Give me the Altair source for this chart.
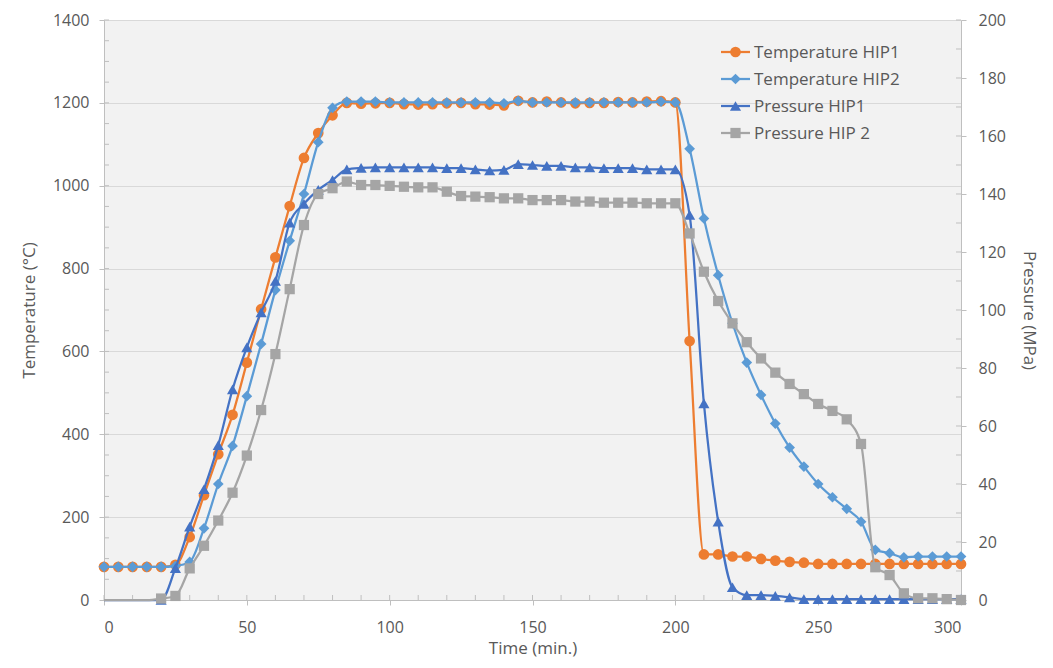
import altair as alt
import pandas as pd

# ---------------- data ----------------
time_min = list(range(0, 301, 5))

temp_hip1 = [80, 80, 80, 80, 80, 85,
             152, 253, 352, 447, 573, 702, 827, 951, 1067, 1127, 1170,
             1200, 1198, 1199, 1200, 1197, 1196, 1197, 1199, 1200, 1197, 1196, 1194,
             1205, 1201, 1203, 1201, 1199, 1200, 1200, 1202, 1201, 1203, 1204, 1201,
             625, 110, 110, 105, 105, 99, 95, 92, 90,
             87, 87, 87, 87, 87, 87, 87, 87, 87, 87, 87]

temp_hip2 = [80, 80, 80, 80, 80, 82,
             92, 173, 280, 372, 492, 618, 748, 867, 980, 1105, 1188,
             1203, 1203, 1203, 1201, 1201, 1201, 1201, 1201, 1201, 1201, 1201, 1199,
             1205, 1201, 1201, 1201, 1201, 1201, 1201, 1201, 1201, 1201, 1203, 1201,
             1089, 921, 784, 668, 573, 495, 426, 368, 322, 280, 248, 220, 189,
             121, 113, 103, 105, 105, 105, 105]

pres_hip1 = [0, 0, 0, 0, 0,
             11, 25.3, 38.2, 53.4, 72.6, 87.1, 99.2, 110, 130.1, 136.6, 141.4, 144.8,
             148.5, 149, 149.2, 149.2, 149.2, 149.2, 149.2, 148.9, 148.9, 148.5, 148.1, 148.3,
             150.3, 150, 149.7, 149.7, 149.2, 149.2, 148.9, 148.9, 148.9, 148.5, 148.5, 148.5,
             132.8, 67.8, 27, 4.4, 1.7, 1.7, 1.4, 0.9,
             0.3, 0.3, 0.3, 0.3, 0.3, 0.3, 0.3, 0.3, 0.3, 0.3, 0.3, 0.3]

pres_hip2 = [0, 0, 0, 0, 0.5,
             1.4, 10.9, 18.7, 27.4, 37, 49.8, 65.5, 84.8, 107.2, 129.3, 140, 142,
             144.3, 143.1, 143.1, 142.8, 142.5, 142.3, 142.3, 140.8, 139.3, 139.1, 138.9, 138.5,
             138.5, 137.9, 137.9, 137.9, 137.4, 137.4, 137, 137, 137, 136.8, 136.8, 136.8,
             126.4, 113.2, 103.1, 95.4, 88.9, 83.3, 78.4, 74.5, 71, 67.6, 65.2, 62.3, 53.8,
             11.3, 8.6, 2.3, 0.6, 0.6, 0.3, 0]

series_names = ["Temperature HIP1", "Temperature HIP2", "Pressure HIP1", "Pressure HIP 2"]
series_colors = ["#ED7D31", "#5B9BD5", "#4472C4", "#A5A5A5"]
series_shapes = ["circle", "diamond", "triangle-up", "square"]
series_sizes = [115, 115, 125, 105]
pressure_marker_start = 20  # pressure markers begin at 20 min

x_ticks = list(range(0, 301, 50))
x_minor = list(range(0, 301, 10))
temp_ticks = list(range(0, 1401, 200))
temp_minor = list(range(0, 1401, 50))
pres_ticks = list(range(0, 201, 20))
pres_minor = list(range(0, 201, 10))

# ---------------- build ----------------
W, H = 857, 580
FONT = "Open Sans"
TXT = "#595959"
AX = "#BFBFBF"

rows = []
for name, vals in zip(series_names, [temp_hip1, temp_hip2, pres_hip1, pres_hip2]):
    for t, v in zip(time_min, vals):
        rows.append({"time": t, "value": v, "series": name})
df = pd.DataFrame(rows)

x_def = alt.X("time:Q", scale=alt.Scale(domain=[0, 300], nice=False, zero=False),
              axis=alt.Axis(title="Time (min.)", values=x_ticks, grid=False, format="d",
                            tickSize=5, tickColor=AX, domainColor=AX, labelPadding=14,
                            titlePadding=5))
y_temp = alt.Y("value:Q", scale=alt.Scale(domain=[0, 1400], nice=False),
               axis=alt.Axis(title="Temperature (°C)", values=temp_ticks, grid=True, format="d",
                             gridColor="#D9D9D9", tickSize=5, tickColor=AX, domainColor=AX,
                             labelPadding=10, titlePadding=14, orient="left"))
y_pres = alt.Y("value:Q", scale=alt.Scale(domain=[0, 200], nice=False),
               axis=alt.Axis(title="Pressure (MPa)", values=pres_ticks, grid=False, format="d",
                             tickSize=5, tickColor=AX, domainColor=AX,
                             labelPadding=12, titlePadding=14, orient="right"))


def series_layers(i, y_def):
    name = series_names[i]
    base = alt.Chart(df).transform_filter(alt.datum.series == name)
    line = base.mark_line(color=series_colors[i], strokeWidth=2.25,
                          interpolate="monotone").encode(x=x_def, y=y_def)
    pts = base
    if i >= 2:
        pts = pts.transform_filter(alt.datum.time >= pressure_marker_start)
    point = pts.mark_point(shape=series_shapes[i], filled=True, opacity=1,
                           size=series_sizes[i], color=series_colors[i]).encode(x=x_def, y=y_def)
    return [line, point]


# minor (inside) tick marks
xm = alt.Chart(pd.DataFrame({"time": x_minor})).mark_rule(color=AX, strokeWidth=1).encode(
    x=x_def, y=alt.value(H), y2=alt.value(H - 5))
tm = alt.Chart(pd.DataFrame({"value": temp_minor})).mark_rule(color=AX, strokeWidth=1).encode(
    y=y_temp, x=alt.value(0), x2=alt.value(5))
pm = alt.Chart(pd.DataFrame({"value": pres_minor})).mark_rule(color=AX, strokeWidth=1).encode(
    y=y_pres, x=alt.value(W), x2=alt.value(W - 5))

temp_group = alt.layer(tm, xm, *series_layers(0, y_temp), *series_layers(1, y_temp))
pres_group = alt.layer(pm, *series_layers(2, y_pres), *series_layers(3, y_pres))

# legend (inside plot, top right)
leg_layers = []
leg_y = [32, 59, 86, 113]
for i, name in enumerate(series_names):
    d = pd.DataFrame({"name": [name]})
    c = alt.Chart(d)
    leg_layers.append(c.mark_rule(color=series_colors[i], strokeWidth=2.25).encode(
        x=alt.value(617), x2=alt.value(646), y=alt.value(leg_y[i])))
    leg_layers.append(c.mark_point(shape=series_shapes[i], filled=True, opacity=1,
                                   size=series_sizes[i], color=series_colors[i]).encode(
        x=alt.value(631.5), y=alt.value(leg_y[i])))
    leg_layers.append(c.mark_text(align="left", baseline="middle", font=FONT, fontSize=17,
                                  color=TXT).encode(
        x=alt.value(650), y=alt.value(leg_y[i] + 1), text="name:N"))

chart = alt.layer(temp_group, pres_group, *leg_layers).resolve_scale(
    y="independent"
).properties(
    width=W, height=H,
    background="white",
    autosize=alt.AutoSizeParams(type="none"),
    padding={"left": 96, "top": 12, "right": 84, "bottom": 60},
).configure_view(
    fill="#F2F2F2", strokeWidth=0
).configure_axis(
    labelFont=FONT, labelFontSize=16, labelColor=TXT,
    titleFont=FONT, titleFontSize=17, titleColor=TXT, titleFontWeight="normal",
)

chart.save("out.html", embed_options={"renderer": "svg", "actions": False})
